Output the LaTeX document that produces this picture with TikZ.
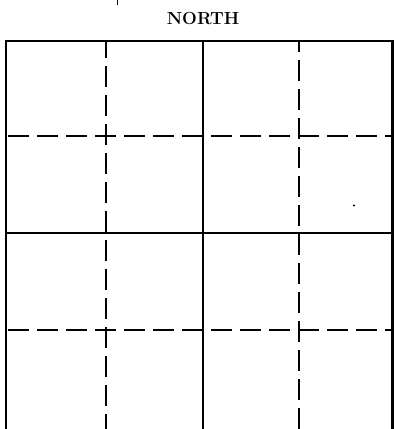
\documentclass[tikz,border=0pt]{standalone}
\begin{document}
\begin{tikzpicture}[x=1pt,y=-1pt,
  border/.style={line width=2.6pt},
  solidline/.style={line width=2.2pt},
  dashline/.style={line width=2.2pt,dash pattern=on 21pt off 8pt},
  label/.style={font=\fontsize{17.5}{20}\selectfont\bfseries,inner sep=0pt}]
\useasboundingbox (0,0) rectangle (395,429);
% title
\node[label] (north) at (203,18.5) {NORTH};
% outer frame (open at the bottom edge)
\coordinate (bl) at (6,429);
\coordinate (tl) at (6,41);
\coordinate (tr) at (392.5,41);
\coordinate (br) at (392.5,429);
\draw[border,line join=miter] (bl) -- (tl) -- (tr) -- (br);
% vertical lines
\coordinate (v1t) at (106,41); \coordinate (v1b) at (106,429);
\coordinate (v2t) at (203,41); \coordinate (v2b) at (203,429);
\coordinate (v3t) at (299,41); \coordinate (v3b) at (299,429);
\draw[dashline,dash phase=4pt] (v1t) -- (v1b);
\draw[solidline] (v2t) -- (v2b);
\draw[dashline,dash phase=10pt] (v3t) -- (v3b);
% horizontal lines
\coordinate (h1l) at (6,136); \coordinate (h1r) at (392.5,136);
\coordinate (h2l) at (6,233); \coordinate (h2r) at (392.5,233);
\coordinate (h3l) at (6,330); \coordinate (h3r) at (392.5,330);
\draw[dashline,dash phase=-2pt] (h1l) -- (h1r);
\draw[solidline] (h2l) -- (h2r);
\draw[dashline,dash phase=-2pt] (h3l) -- (h3r);
% small marks
\coordinate (tick1) at (117.5,0); \coordinate (tick2) at (117.5,5);
\draw[line width=1.5pt] (tick1) -- (tick2);
\fill (354,205.5) circle (1.2pt);
\end{tikzpicture}
\end{document}
